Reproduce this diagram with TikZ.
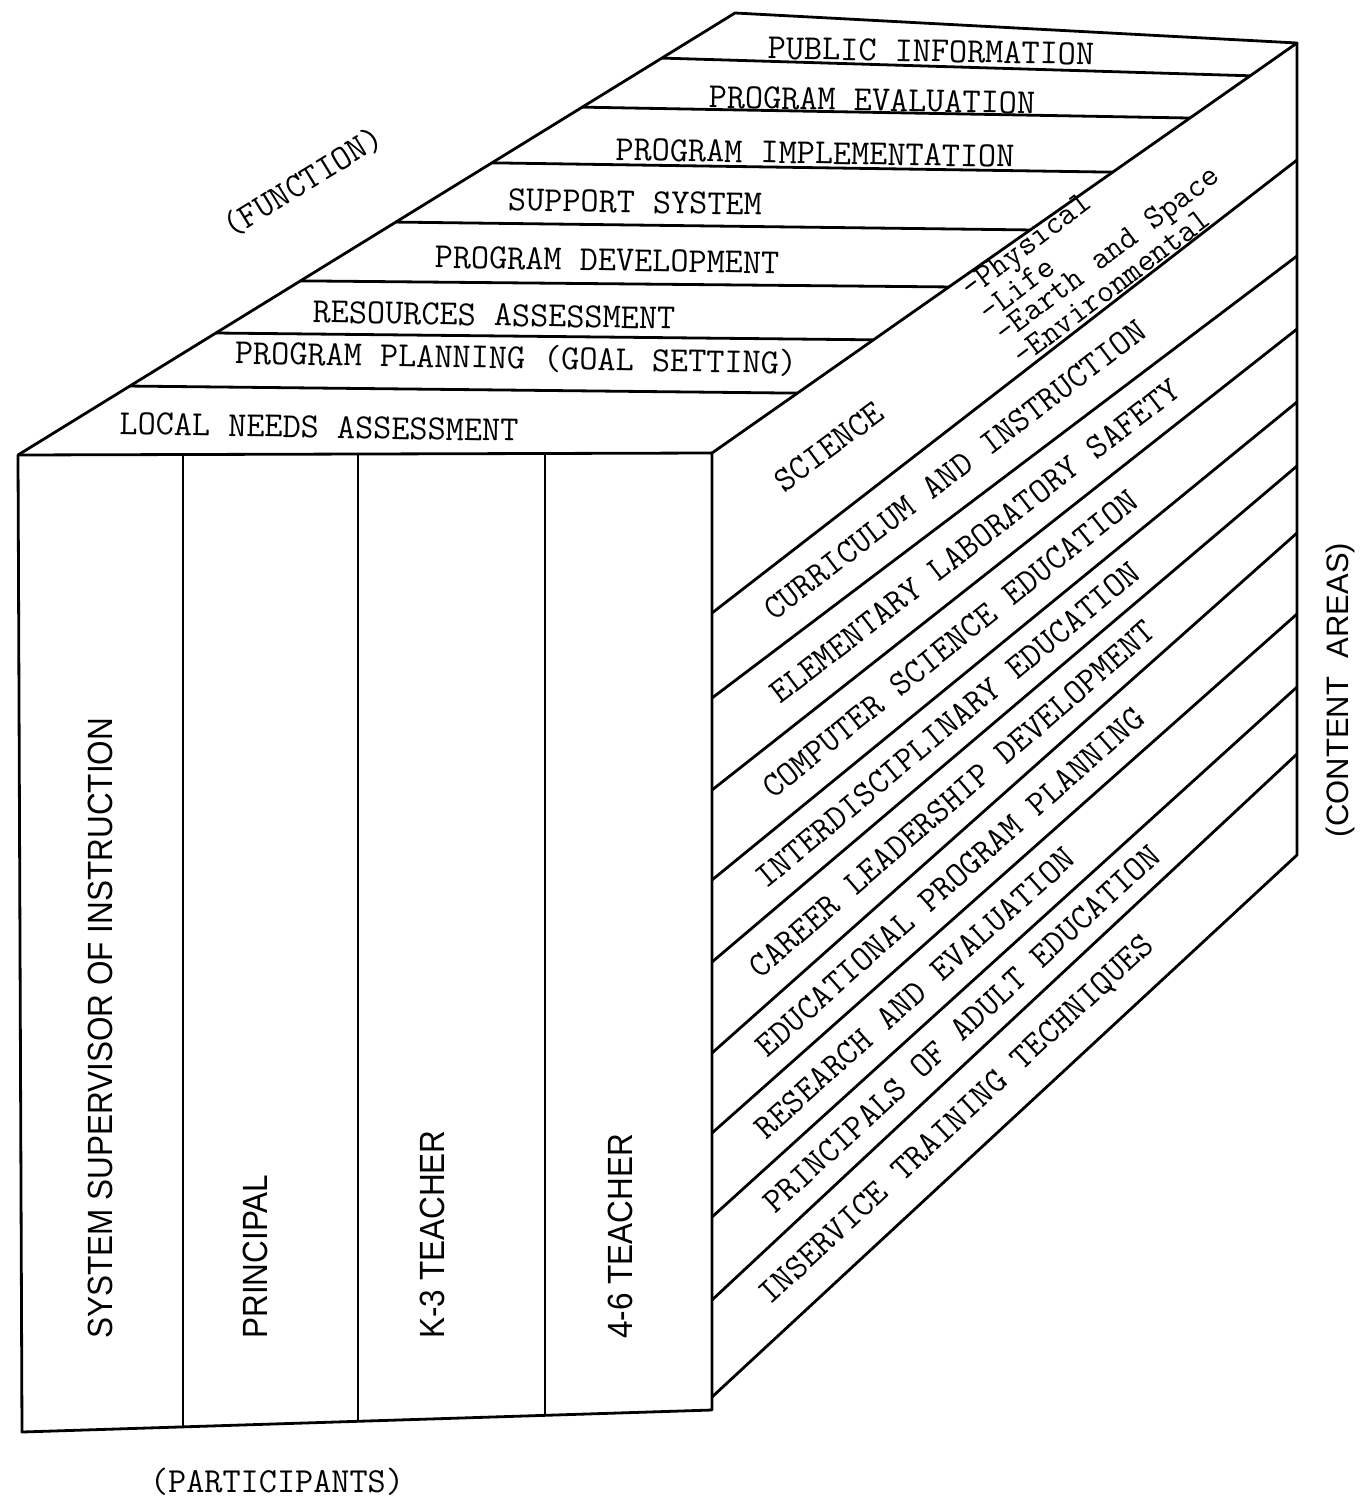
\documentclass[tikz,border=0pt]{standalone}
\usepackage{fontspec}
\usetikzlibrary{calc}
\newfontfamily\labelsans{Liberation Sans}
\newcommand{\narrow}[1]{\scalebox{0.9}[1]{#1}}
\tikzset{
  every picture/.style={line width=1.4pt, line join=round},
  typed/.style={font=\fontsize{17.6}{20}\selectfont\ttfamily, inner sep=0pt},
  func/.style={typed, rotate=-1},
  area/.style={typed, sloped},
  kinds/.style={font=\fontsize{16.5}{13}\selectfont\ttfamily, inner sep=0pt, align=left, rotate=37},
  role/.style={font=\fontsize{17.5}{19}\selectfont\labelsans, inner sep=0pt, rotate=90, anchor=west},
  axis/.style={font=\fontsize{15.5}{17}\selectfont\labelsans, inner sep=0pt},
}
\begin{document}
\begin{tikzpicture}[x=0.5pt, y=-0.5pt]
  \useasboundingbox (0,0) rectangle (1366,1503);

  % box corners
  \coordinate (fl) at (18,455);
  \coordinate (fr) at (712,453);
  \coordinate (bl) at (735,13);
  \coordinate (br) at (1297,43);
  \coordinate (dl) at (22,1432);
  \coordinate (dr) at (712,1410);

  % front face: participants
  \draw (fl) -- (fr) -- (dr) -- (dl) -- cycle;
  \foreach \x/\y in {183/1427, 358/1421, 545/1415}
    \draw (\x,455) -- (\x,\y);
  \node[role] (super) at (100,1340) {\narrow{SYSTEM SUPERVISOR OF INSTRUCTION}};
  \node[role] (princ) at (255,1340) {\narrow{PRINCIPAL}};
  \node[role] (kthree) at (432,1340) {\narrow{K-3 TEACHER}};
  \node[role] (fsix) at (620,1340) {\narrow{4-6 TEACHER}};

  % top face: functions
  \draw (fl) -- (bl) -- (br) -- (fr);
  \foreach \t/\u in {0.156/0.146, 0.276/0.276, 0.394/0.405, 0.527/0.544, 0.661/0.685, 0.787/0.817, 0.898/0.920}
    \draw ($(fl)!\t!(bl)$) -- ($(fr)!\u!(br)$);
  \node[func] (pubinf) at (931,51)  {PUBLIC INFORMATION};
  \node[func] (progev) at (872,100) {PROGRAM EVALUATION};
  \node[func] (progim) at (815,153) {PROGRAM IMPLEMENTATION};
  \node[func] (suppsy) at (635,202) {SUPPORT SYSTEM};
  \node[func] (progdv) at (607,260) {PROGRAM DEVELOPMENT};
  \node[func] (resass) at (494,315) {RESOURCES ASSESSMENT};
  \node[func] (progpl) at (516,358) {PROGRAM PLANNING (GOAL SETTING)};
  \node[func] (locnds) at (319,427) {LOCAL NEEDS ASSESSMENT};

  % right face: content areas
  \foreach \i/\f/\b in {0/453/43, 1/613/160, 2/698/256, 3/790/329, 4/880/402, 5/962/466,
                        6/1053/533, 7/1133/614, 8/1217/687, 9/1300/754, 10/1397/855} {
    \coordinate (f\i) at (712,\f);
    \coordinate (b\i) at (1297,\b);
  }
  \draw (b0) -- (b10) -- (f10);
  \foreach \i in {1,...,9}
    \draw (f\i) -- (b\i);
  \path ($(f0)!.5!(f1)$) -- ($(b0)!.5!(b1)$) node[area, pos=.2] (sci) {SCIENCE};
  \node[kinds] (scikinds) at (1099,243) {-Physical\\-Life\\-Earth and Space\\-Environmental};
  \path ($(f1)!.5!(f2)$) -- ($(b1)!.5!(b2)$) node[area, pos=.415] (curr) {CURRICULUM AND INSTRUCTION};
  \path ($(f2)!.5!(f3)$) -- ($(b2)!.5!(b3)$) node[area, pos=.45] (labsaf) {ELEMENTARY LABORATORY SAFETY};
  \path ($(f3)!.5!(f4)$) -- ($(b3)!.5!(b4)$) node[area, pos=.407] (compsc) {COMPUTER SCIENCE EDUCATION};
  \path ($(f4)!.5!(f5)$) -- ($(b4)!.5!(b5)$) node[area, pos=.403] (interd) {INTERDISCIPLINARY EDUCATION};
  \path ($(f5)!.5!(f6)$) -- ($(b5)!.5!(b6)$) node[area, pos=.41] (career) {CAREER LEADERSHIP DEVELOPMENT};
  \path ($(f6)!.5!(f7)$) -- ($(b6)!.5!(b7)$) node[area, pos=.407] (edplan) {EDUCATIONAL PROGRAM PLANNING};
  \path ($(f7)!.5!(f8)$) -- ($(b7)!.5!(b8)$) node[area, pos=.347] (reseval) {RESEARCH AND EVALUATION};
  \path ($(f8)!.5!(f9)$) -- ($(b8)!.5!(b9)$) node[area, pos=.427] (adulted) {PRINCIPALS OF ADULT EDUCATION};
  \path ($(f9)!.5!(f10)$) -- ($(b9)!.5!(b10)$) node[area, pos=.419] (inserv) {INSERVICE TRAINING TECHNIQUES};

  % axis names
  \node[typed, rotate=31.5] (fnname) at (303,182) {(FUNCTION)};
  \node[typed] (ptname) at (277,1482) {(PARTICIPANTS)};
  \node[axis, rotate=90] (caname) at (1340,690) {(CONTENT\hspace{0.6em}AREAS)};
\end{tikzpicture}
\end{document}
